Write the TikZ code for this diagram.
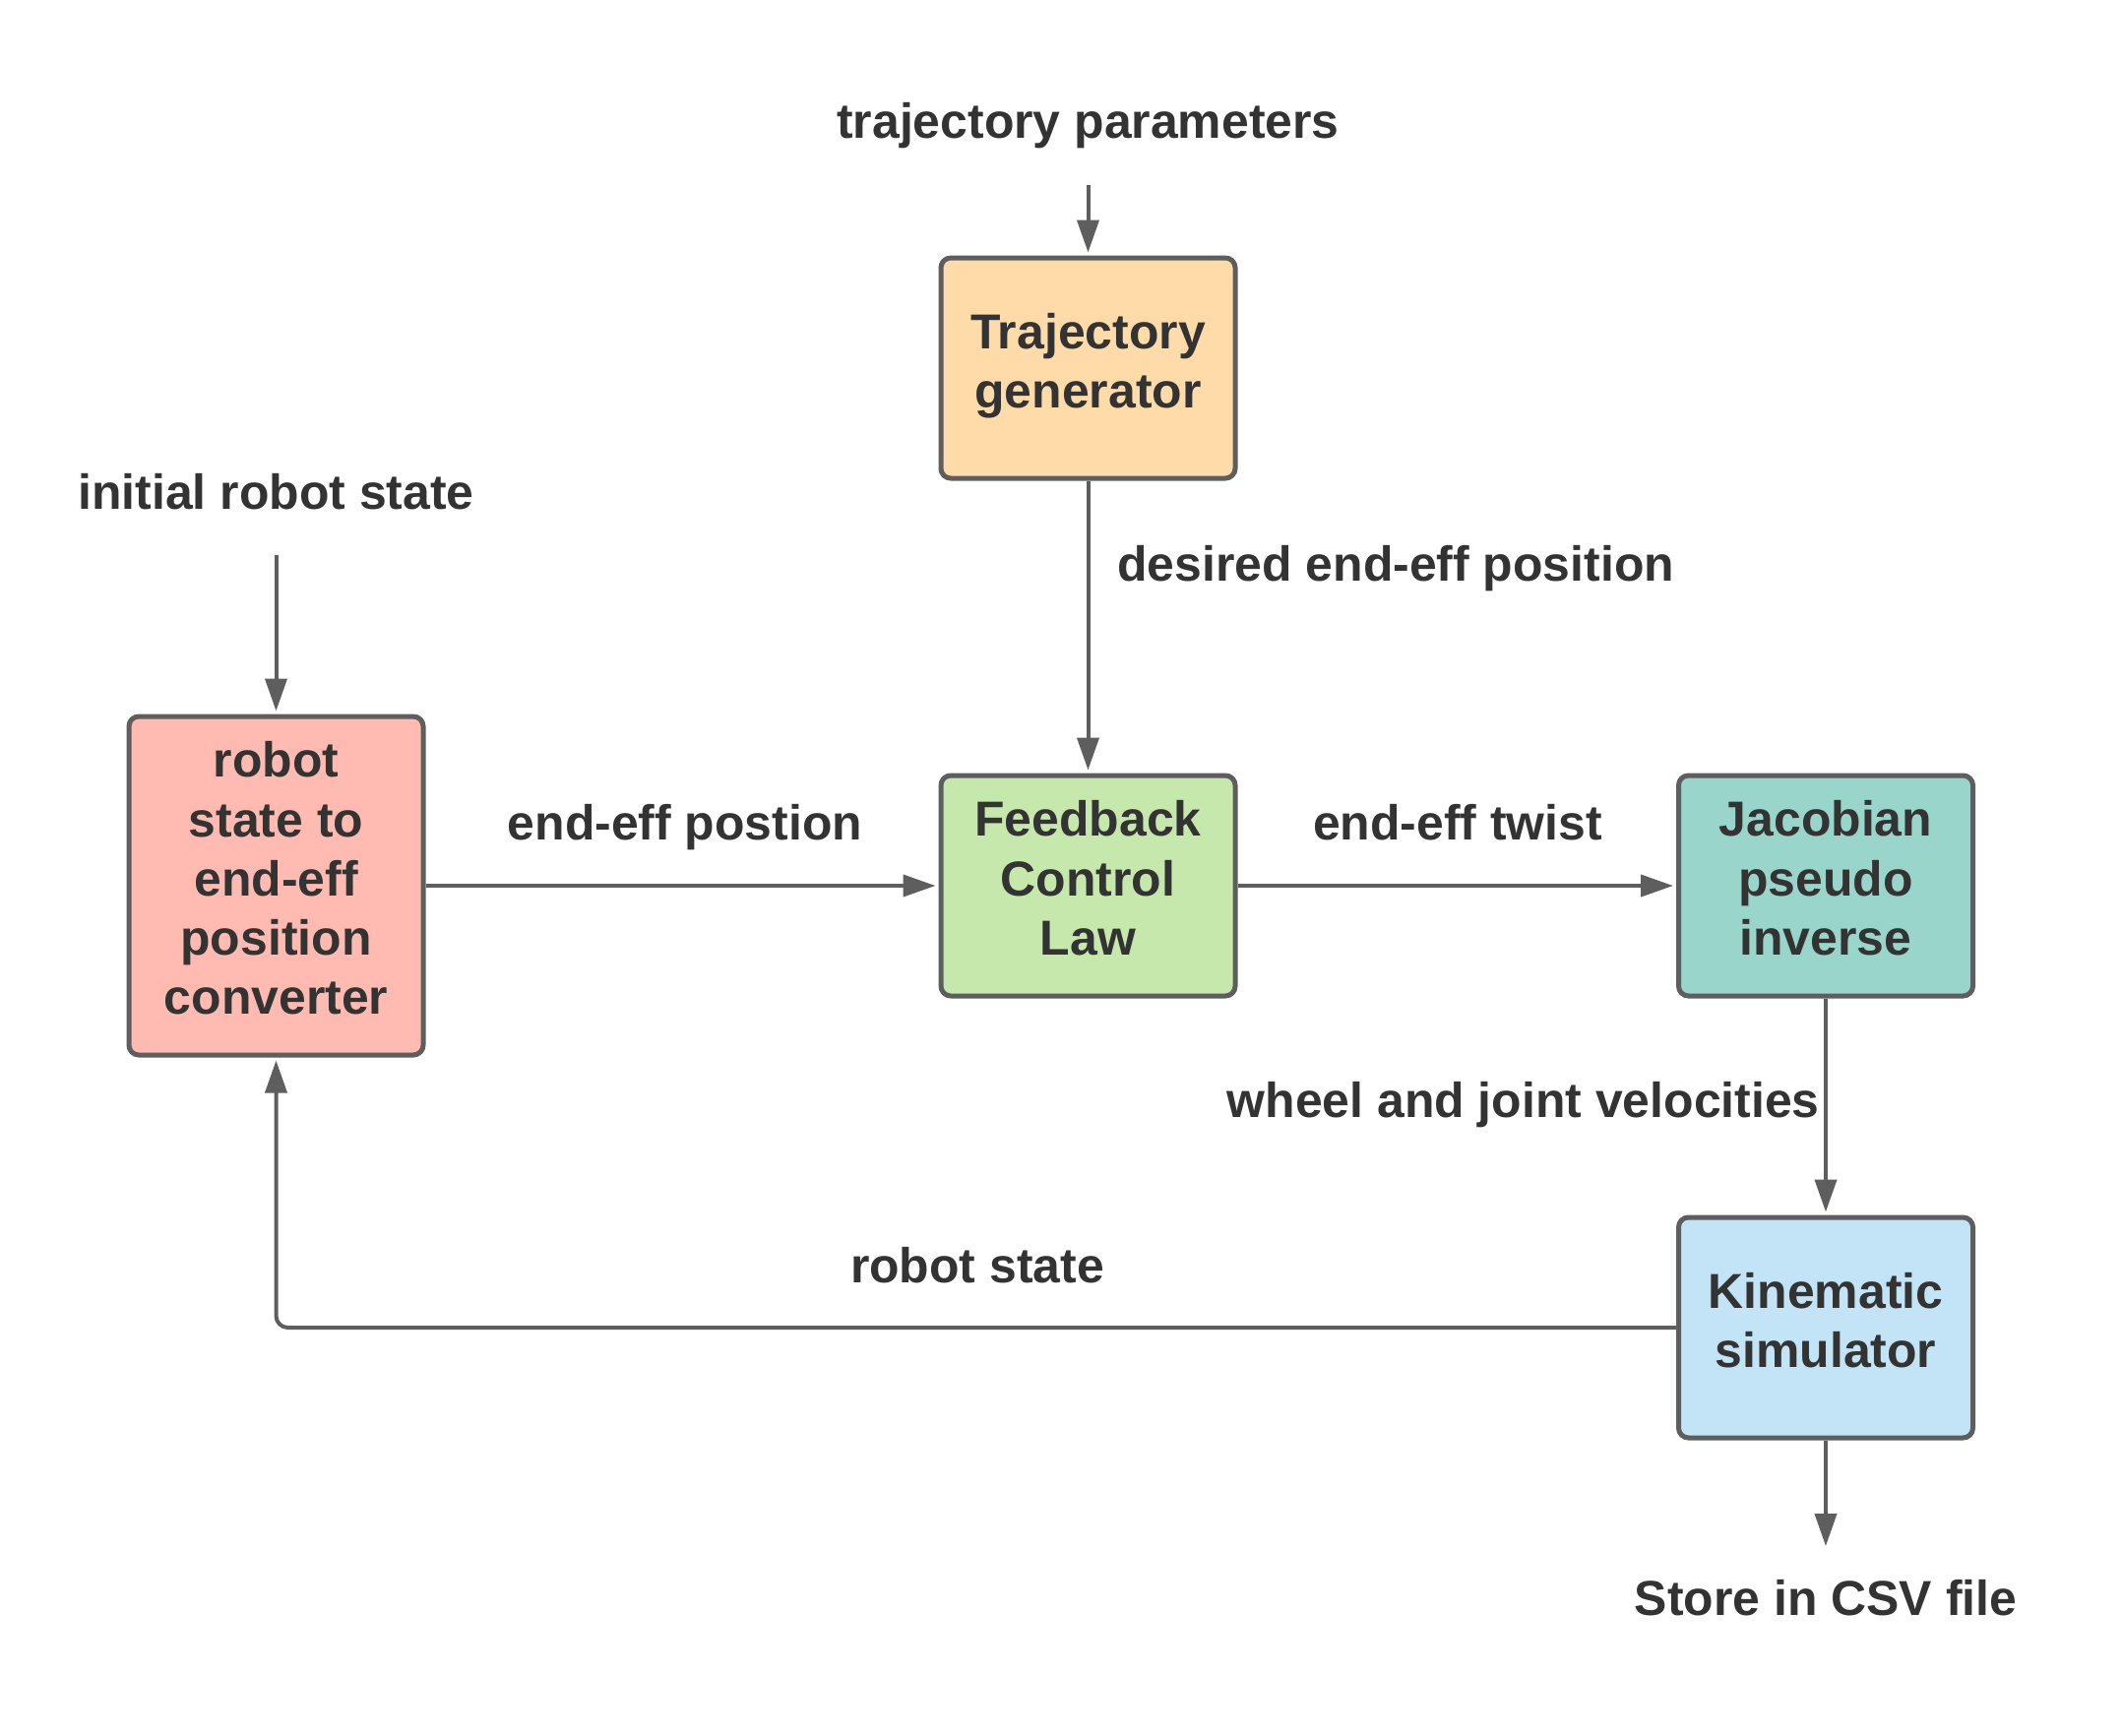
\documentclass[tikz,border=0pt]{standalone}
\usepackage{fontspec}
\setmainfont{Liberation Sans}
\usepackage{tikz}
\usetikzlibrary{arrows.meta,positioning}
\definecolor{trajfill}{HTML}{FFDBA9}
\definecolor{convfill}{HTML}{FFBBB1}
\definecolor{lawfill}{HTML}{C7E8AC}
\definecolor{jacfill}{HTML}{99D5CA}
\definecolor{simfill}{HTML}{C2E4F6}
\definecolor{edge}{HTML}{5E5E5E}
\definecolor{ink}{HTML}{333333}

\begin{document}
\begin{tikzpicture}[
  box/.style={draw=edge,line width=0.05cm,rounded corners=0.1cm,minimum width=2.99cm,minimum height=2.24cm,align=center,font=\fontsize{14.2}{17.1}\selectfont\bfseries,text=ink,
    execute at end node={\rule[-0.16cm]{0pt}{0.1pt}}},
  lbl/.style={font=\fontsize{14.2}{17}\selectfont\bfseries,text=ink},
  arr/.style={-{Triangle[length=0.33cm,width=0.22cm]},line width=0.04cm,draw=edge,shorten >=0.03cm},
]
  \useasboundingbox (0,0) rectangle (21.56,-17.63);
  % blocks
  \node[box,fill=trajfill] (traj) at (11.055,-3.74) {Trajectory\\generator};
  \node[box,fill=convfill,minimum height=3.44cm] (conv) at (2.805,-9.00) {robot\\state to\\end-eff\\position\\converter};
  \node[box,fill=lawfill] (law) at (11.055,-9.00) {Feedback\\Control\\Law};
  \node[box,fill=jacfill] (jac) at (18.55,-9.00) {Jacobian\\pseudo\\inverse};
  \node[box,fill=simfill] (sim) at (18.55,-13.49) {Kinematic\\simulator};

  % inputs and outputs
  \node[lbl] (tpar) at (11.055,-1.28) {trajectory parameters};
  \coordinate (tparend) at (11.055,-1.88);
  \node[lbl] (init) at (2.805,-5.00) {initial robot state};
  \coordinate (initend) at (2.805,-5.64);
  \coordinate (csvend) at (18.55,-15.74);
  \node[lbl] (csv) at (18.55,-16.24) {Store in CSV file};

  % signal labels
  \node[lbl,anchor=west] (des) at (11.23,-5.78) {desired end-eff position};
  \node[lbl] (eepos) at (6.96,-8.41) {end-eff postion};
  \node[lbl] (eetw) at (14.81,-8.36) {end-eff twist};
  \node[lbl,anchor=east] (vel) at (18.61,-11.23) {wheel and joint velocities};
  \node[lbl] (rstate) at (9.93,-12.86) {robot state};

  % connectors
  \draw[arr] (tparend) -- (traj);
  \draw[arr] (initend) -- (conv);
  \draw[arr] (traj) -- (law);
  \draw[arr] (conv) -- (law);
  \draw[arr] (law) -- (jac);
  \draw[arr] (jac) -- (sim);
  \draw[arr] (sim) -- (csvend);
  \draw[arr,rounded corners=0.12cm] (sim.west) -| (conv.south);
\end{tikzpicture}
\end{document}
